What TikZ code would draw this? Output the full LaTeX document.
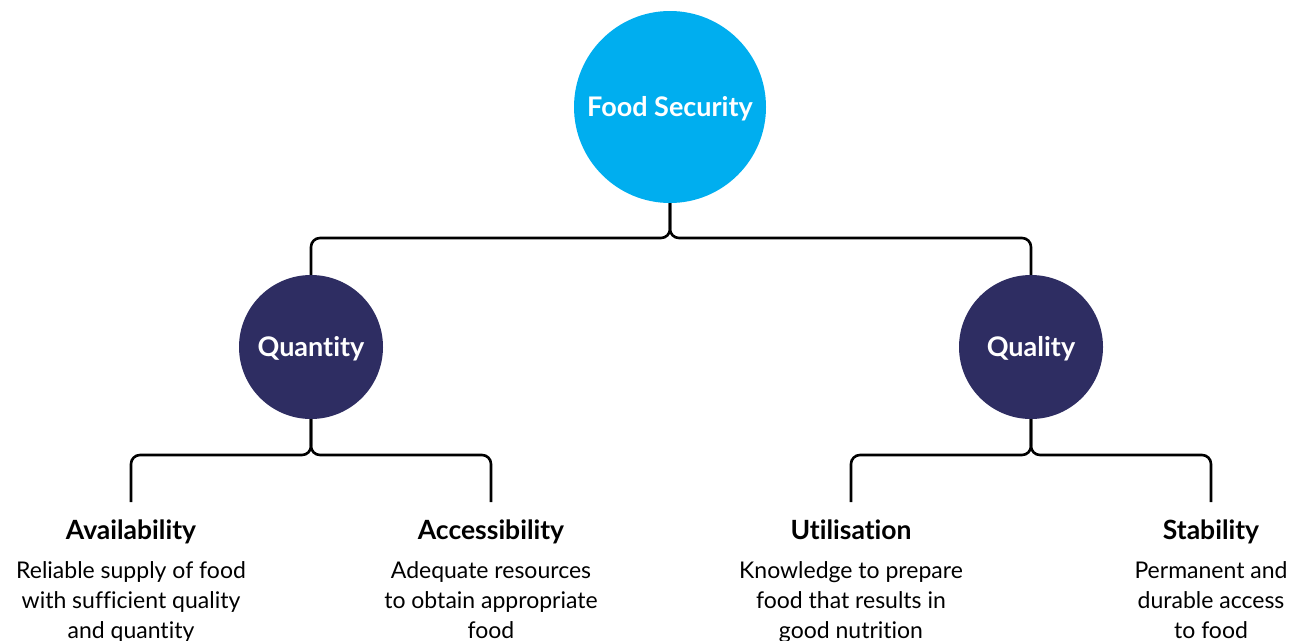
\documentclass[tikz,border=0pt]{standalone}
\usepackage{fontspec}
\setmainfont{Lato}[Ligatures=NoCommon]
\definecolor{cyanc}{HTML}{00AEEF}
\definecolor{navyc}{HTML}{2E2D62}
\begin{document}
\begin{tikzpicture}[x=1pt,y=-1pt,
  conn/.style={line width=2.6pt,black,rounded corners=9pt},
  topc/.style={circle,fill=cyanc,minimum size=192pt,inner sep=0pt,text height=19pt,text depth=0pt,text=white,font=\bfseries\fontsize{27}{31}\selectfont},
  midc/.style={circle,fill=navyc,minimum size=144pt,inner sep=0pt,text height=19pt,text depth=0pt,text=white,font=\bfseries\fontsize{27}{31}\selectfont},
  ttl/.style={anchor=base,inner sep=0pt,font=\bfseries\fontsize{26.5}{30}\selectfont},
  desc/.style={anchor=base,inner sep=0pt,align=center,font=\fontsize{23}{30}\selectfont}]
\useasboundingbox (0,0) rectangle (1297,640);
\node[topc] (fs) at (670,107) {Food Security};
\node[midc] (qn) at (311,347) {Quantity};
\node[midc] (ql) at (1031,347) {Quality};
\coordinate (j1) at (670,238);
\coordinate (j2) at (311,455);
\coordinate (j3) at (1031,455);
\coordinate (avT) at (131,502);
\coordinate (acT) at (491,502);
\coordinate (utT) at (851,502);
\coordinate (stT) at (1211,502);
\draw[conn] (fs.south) -- (j1) -| (qn.north);
\draw[conn] (fs.south) -- (j1) -| (ql.north);
\draw[conn] (qn.south) -- (j2) -| (avT);
\draw[conn] (qn.south) -- (j2) -| (acT);
\draw[conn] (ql.south) -- (j3) -| (utT);
\draw[conn] (ql.south) -- (j3) -| (stT);
\node[ttl] (av) at (131,539) {Availability};
\node[ttl] (ac) at (491,539) {Accessibility};
\node[ttl] (ut) at (851,539) {Utilisation};
\node[ttl] (st) at (1211,539) {Stability};
\node[desc] (avd) at (131,638) {Reliable supply of food\\with sufficient quality\\and quantity};
\node[desc] (acd) at (491,638) {Adequate resources\\to obtain appropriate\\food};
\node[desc] (utd) at (851,638) {Knowledge to prepare\\food that results in\\good nutrition};
\node[desc] (std) at (1211,638) {Permanent and\\durable access\\to food};
\end{tikzpicture}
\end{document}
